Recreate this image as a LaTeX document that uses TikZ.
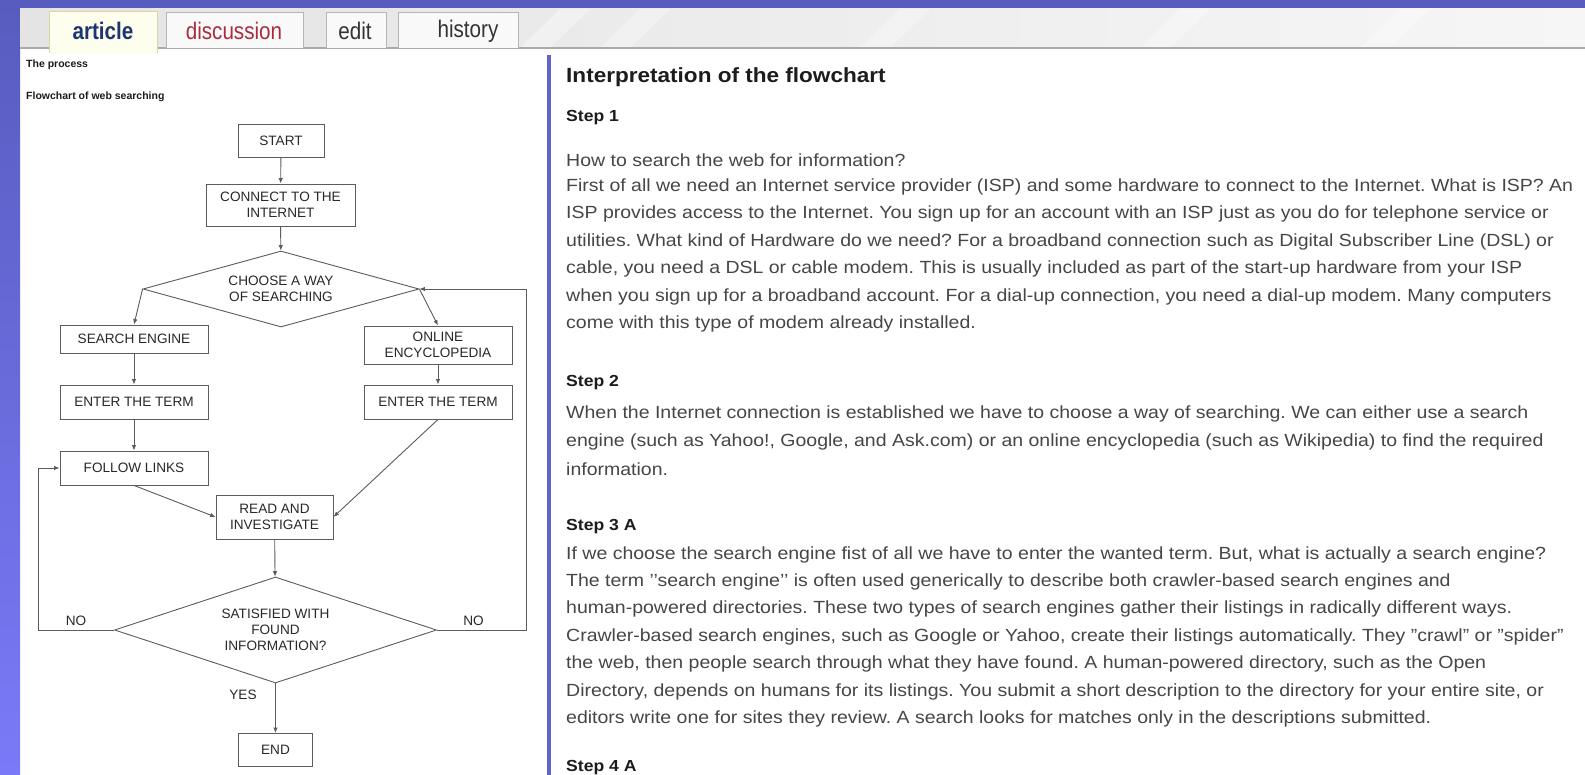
\documentclass[tikz,border=0pt]{standalone}
\usepackage{fontspec}
\setmainfont{Liberation Sans}
\usetikzlibrary{arrows.meta,shapes.geometric}
\frenchspacing

\definecolor{framebluetop}{RGB}{88,92,190}
\definecolor{frameblueend}{RGB}{122,122,248}
\definecolor{dividerblue}{RGB}{96,98,206}
\definecolor{rulegrey}{RGB}{170,170,170}
\definecolor{tabbarlight}{RGB}{246,246,246}
\definecolor{tabbardark}{RGB}{228,228,228}
\definecolor{tabborder}{RGB}{182,182,182}
\definecolor{tabfill}{RGB}{249,249,249}
\definecolor{tabactive}{RGB}{254,254,238}
\definecolor{tabactiveborder}{RGB}{222,214,160}
\definecolor{navytext}{RGB}{30,54,112}
\definecolor{redtext}{RGB}{170,44,64}
\definecolor{bodytext}{RGB}{70,70,70}
\definecolor{headtext}{RGB}{28,28,28}
\definecolor{chartline}{RGB}{92,92,92}
\definecolor{chartink}{RGB}{40,40,40}

% text helpers: the page text is set slightly wide
\newcommand\bodytxt[1]{\scalebox{1.108}[1]{\fontsize{17.6}{20}\selectfont #1}}
\newcommand\headtxt[2]{\scalebox{1.1}[1]{\fontsize{#1}{#1}\selectfont\bfseries #2}}
\newcommand\tabtxt[1]{\scalebox{0.86}[1]{\fontsize{24}{24}\selectfont #1}}
\newcommand\chartfont{\fontsize{13.6}{16}\selectfont}
\newcommand\dq{\char"22\relax}
\newcommand\sq{\char"27\relax}

\begin{document}
\begin{tikzpicture}[x=1pt,y=-1pt,
  box/.style={draw=chartline, fill=white, line width=0.9pt, inner sep=0pt,
    align=center, font=\chartfont, text=chartink},
  decision/.style={diamond, draw=chartline, fill=white, line width=0.9pt,
    inner sep=0pt, aspect=3, align=center, font=\chartfont, text=chartink},
  flow/.style={draw=chartline, line width=0.9pt, -{Latex[length=5.5pt,width=4.5pt]}},
  answer/.style={font=\chartfont, text=chartink, inner sep=0pt},
  bodyline/.style={anchor=west, inner sep=0pt, text=bodytext},
  headline/.style={anchor=west, inner sep=0pt, text=headtext},
  tabbox/.style={draw=tabborder, fill=tabfill, line width=0.9pt},
  smallhead/.style={anchor=west, inner sep=0pt, text=headtext,
    font=\fontsize{10.5}{12}\selectfont\bfseries}]

\useasboundingbox (0,0) rectangle (1585,775);
\fill[white] (0,0) rectangle (1585,775);

% ---------- window frame ----------
\shade[top color=framebluetop, bottom color=frameblueend] (0,0) rectangle (20,775);
\fill[framebluetop] (0,0) rectangle (1585,9);

% ---------- tab bar ----------
\shade[left color=tabbardark, right color=tabbarlight] (20,9) rectangle (1585,48);
\foreach \sx in {560,640,900,1180,1400}
  \fill[white, opacity=0.35] (\sx,9) -- (\sx+30,9) -- (\sx-10,48) -- (\sx-40,48) -- cycle;
\draw[rulegrey, line width=1.8pt] (20,48) -- (1585,48);

\draw[tabbox] (166,48) -- (166,12) -- (303,12) -- (303,48);
\draw[tabbox] (326,48) -- (326,12) -- (386,12) -- (386,48);
\draw[tabbox] (398,48) -- (398,12) -- (518,12) -- (518,48);
\filldraw[draw=tabactiveborder, fill=tabactive, line width=0.9pt]
  (49,53) -- (49,11) -- (157,11) -- (157,53);
\fill[tabactive] (49.5,46) rectangle (156.5,54);

\node[inner sep=0pt, text=navytext] (tabarticle) at (103,31) {\tabtxt{\bfseries article}};
\node[inner sep=0pt, text=redtext] (tabdiscussion) at (234,31) {\tabtxt{discussion}};
\node[inner sep=0pt, text=black!80] (tabedit) at (355,31) {\tabtxt{edit}};
\node[inner sep=0pt, text=black!80] (tabhistory) at (468,31) {\tabtxt{history}};

% ---------- left column ----------
\node[smallhead] (process) at (26,65) {The process};
\node[smallhead] (flowtitle) at (26,97) {Flowchart of web searching};

\node[box, minimum width=86pt, minimum height=33pt] (start) at (281,140.5) {START};
\node[box, minimum width=149pt, minimum height=42pt] (connect) at (280.5,205) {CONNECT TO THE\\INTERNET};
\node[decision, minimum width=276pt, minimum height=76pt] (choose) at (281,289) {CHOOSE A WAY\\OF SEARCHING};
\node[box, minimum width=148pt, minimum height=28pt] (engine) at (134,339) {SEARCH ENGINE};
\node[box, minimum width=148pt, minimum height=38pt] (online) at (438,345) {ONLINE\\ENCYCLOPEDIA};
\node[box, minimum width=148pt, minimum height=34pt] (termleft) at (134,402) {ENTER THE TERM};
\node[box, minimum width=148pt, minimum height=34pt] (termright) at (438,402) {ENTER THE TERM};
\node[box, minimum width=148pt, minimum height=34pt] (follow) at (134,468) {FOLLOW LINKS};
\node[box, minimum width=117pt, minimum height=44pt] (read) at (274.5,517) {READ AND\\INVESTIGATE};
\node[decision, minimum width=322pt, minimum height=106pt] (satisfied) at (275.5,630) {SATISFIED WITH\\FOUND\\INFORMATION?};
\node[box, minimum width=74pt, minimum height=33pt] (finish) at (275.5,750) {END};

\coordinate (loopleft) at (38,0);
\coordinate (loopright) at (526,0);

\draw[flow] (start) -- (connect);
\draw[flow] (connect) -- (choose);
\draw[flow] (choose.west) -- (engine.north);
\draw[flow] (choose.east) -- (online.north);
\draw[flow] (engine) -- (termleft);
\draw[flow] (termleft) -- (follow);
\draw[flow] (online) -- (termright);
\draw[flow] (follow.south) -- (read.west);
\draw[flow] (termright.south) -- (read.east);
\draw[flow] (read) -- (satisfied);
\draw[flow] (satisfied) -- (finish);
\draw[flow] (satisfied.west) -- (loopleft |- satisfied.west) |- (follow.west);
\draw[flow] (satisfied.east) -- (loopright |- satisfied.east) |- (choose.east);

\node[answer] (noleft) at (76,621) {NO};
\node[answer] (noright) at (473.5,621) {NO};
\node[answer] (yes) at (243,695) {YES};

% ---------- divider ----------
\fill[dividerblue] (546.5,55) rectangle (550.5,775);

% ---------- right column ----------
\node[headline] (heading) at (566,77) {\headtxt{20.5}{Interpretation of the flowchart}};

\node[headline] (stepone) at (566,118) {\headtxt{16}{Step 1}};
\node[bodyline] (s1a) at (566,160) {\bodytxt{How to search the web for information?}};
\node[bodyline] (s1b) at (566,187) {\bodytxt{First of all we need an Internet service provider (ISP) and some hardware to connect to the Internet. What is ISP? An}};
\node[bodyline] (s1c) at (566,214) {\bodytxt{ISP provides access to the Internet. You sign up for an account with an ISP just as you do for telephone service or}};
\node[bodyline] (s1d) at (566,242) {\bodytxt{utilities. What kind of Hardware do we need? For a broadband connection such as Digital Subscriber Line (DSL) or}};
\node[bodyline] (s1e) at (566,269) {\bodytxt{cable, you need a DSL or cable modem. This is usually included as part of the start-up hardware from your ISP}};
\node[bodyline] (s1f) at (566,297) {\bodytxt{when you sign up for a broadband account. For a dial-up connection, you need a dial-up modem. Many computers}};
\node[bodyline] (s1g) at (566,324) {\bodytxt{come with this type of modem already installed.}};

\node[headline] (steptwo) at (566,383) {\headtxt{16}{Step 2}};
\node[bodyline] (s2a) at (566,414) {\bodytxt{When the Internet connection is established we have to choose a way of searching. We can either use a search}};
\node[bodyline] (s2b) at (566,442) {\bodytxt{engine (such as Yahoo!, Google, and Ask.com) or an online encyclopedia (such as Wikipedia) to find the required}};
\node[bodyline] (s2c) at (566,469) {\bodytxt{information.}};

\node[headline] (stepthree) at (566,527) {\headtxt{16}{Step 3 A}};
\node[bodyline] (s3a) at (566,555) {\bodytxt{If we choose the search engine fist of all we have to enter the wanted term. But, what is actually a search engine?}};
\node[bodyline] (s3b) at (566,582) {\bodytxt{The term \sq\sq search engine\sq\sq{} is often used generically to describe both crawler-based search engines and}};
\node[bodyline] (s3c) at (566,609) {\bodytxt{human-powered directories. These two types of search engines gather their listings in radically different ways.}};
\node[bodyline] (s3d) at (566,637) {\bodytxt{Crawler-based search engines, such as Google or Yahoo, create their listings automatically. They \dq crawl\dq{} or \dq spider\dq}};
\node[bodyline] (s3e) at (566,664) {\bodytxt{the web, then people search through what they have found. A human-powered directory, such as the Open}};
\node[bodyline] (s3f) at (566,692) {\bodytxt{Directory, depends on humans for its listings. You submit a short description to the directory for your entire site, or}};
\node[bodyline] (s3g) at (566,719) {\bodytxt{editors write one for sites they review. A search looks for matches only in the descriptions submitted.}};

\node[headline] (stepfour) at (566,768) {\headtxt{16}{Step 4 A}};
\end{tikzpicture}
\end{document}
